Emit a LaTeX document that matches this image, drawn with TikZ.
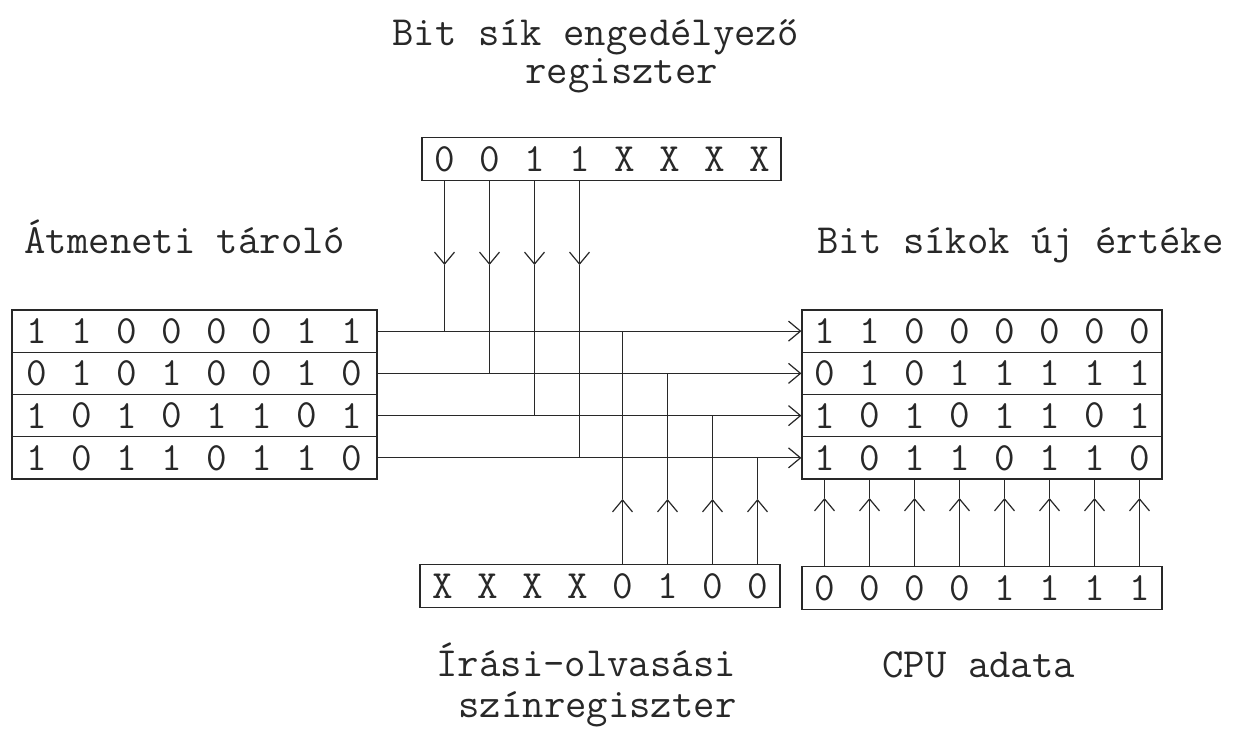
\documentclass[tikz,border=0pt]{standalone}
\usepackage{fontspec}
\usetikzlibrary{arrows.meta}
\definecolor{ink}{RGB}{40,40,40}
\begin{document}
\begin{tikzpicture}[x=1pt,y=-1pt,line width=1.2pt,draw=ink,
  lbl/.style={font=\fontsize{41.5}{45}\selectfont\ttfamily,text=ink,inner sep=0pt},
  dig/.style={font=\fontsize{40}{44}\selectfont\ttfamily,text=ink,inner sep=0pt},
  regbox/.style={draw=ink,line width=1.2pt,minimum height=42.25pt,inner sep=0pt},
  tip/.style={-{Straight Barb[length=12pt,width=20pt,line width=1.2pt]}}]
\useasboundingbox (0,0) rectangle (1250,730);

% labels
\node[lbl,anchor=base west] (title1) at (392,46) {Bit sík engedélyező};
\node[lbl,anchor=base west] (title2) at (525,84) {regiszter};
\node[lbl,anchor=base west] (tmplbl) at (24,253) {Átmeneti tároló};
\node[lbl,anchor=base west] (newlbl) at (817,253) {Bit síkok új értéke};
\node[lbl,anchor=base west] (wrlbl1) at (436,676) {Írási-olvasási};
\node[lbl,anchor=base west] (wrlbl2) at (458,717) {színregiszter};
\node[lbl,anchor=base west] (cpulbl) at (882,677) {CPU adata};

% bit plane enable register
\node[regbox,minimum width=359pt] (ber) at (601.5,159) {};
\foreach \d [count=\i] in {0,0,1,1,X,X,X,X}
  \node[dig] (ber\i) at ({444.5+45*(\i-1)},159) {\d};

% latch rows (left)
\foreach \i in {1,...,4}
  \node[regbox,minimum width=365pt] (L\i) at (194.5,{310+42.25*(\i-0.5)}) {};
\foreach \r/\bits in {1/{1,1,0,0,0,0,1,1},2/{0,1,0,1,0,0,1,0},3/{1,0,1,0,1,1,0,1},4/{1,0,1,1,0,1,1,0}}
  \foreach \d [count=\c] in \bits
    \node[dig] (L\r-\c) at ({37+45*(\c-1)},{310+42.25*(\r-0.5)}) {\d};

% new values rows (right)
\foreach \i in {1,...,4}
  \node[regbox,minimum width=360pt] (R\i) at (982,{310+42.25*(\i-0.5)}) {};
\foreach \r/\bits in {1/{1,1,0,0,0,0,0,0},2/{0,1,0,1,1,1,1,1},3/{1,0,1,0,1,1,0,1},4/{1,0,1,1,0,1,1,0}}
  \foreach \d [count=\c] in \bits
    \node[dig] (R\r-\c) at ({824.5+45*(\c-1)},{310+42.25*(\r-0.5)}) {\d};

% write/read colour register
\node[regbox,minimum width=360pt] (wr) at (600,586) {};
\foreach \d [count=\i] in {X,X,X,X,0,1,0,0}
  \node[dig] (wr\i) at ({442.5+45*(\i-1)},586) {\d};

% CPU data
\node[regbox,minimum width=360pt] (cpu) at (982,588) {};
\foreach \d [count=\i] in {0,0,0,0,1,1,1,1}
  \node[dig] (cpu\i) at ({824.5+45*(\i-1)},588) {\d};

% horizontal connectors
\foreach \i in {1,...,4}
  \draw[tip] (L\i.east) -- (R\i.west);

% enable register verticals
\foreach \i in {1,...,4}{
  \draw[tip] (ber\i |- ber.south) -- (ber\i |- 0,265);
  \draw (ber\i |- 0,265) -- (ber\i |- L\i.east);
}

% colour register verticals
\foreach \j/\k in {5/1,6/2,7/3,8/4}{
  \draw[tip] (wr\j |- wr.north) -- (wr\j |- 0,499);
  \draw (wr\j |- 0,499) -- (wr\j |- L\k.east);
}

% CPU verticals
\foreach \i in {1,...,8}{
  \draw[tip] (cpu\i |- cpu.north) -- (cpu\i |- 0,498);
  \draw (cpu\i |- 0,498) -- (cpu\i |- R4.south);
}
\end{tikzpicture}
\end{document}
